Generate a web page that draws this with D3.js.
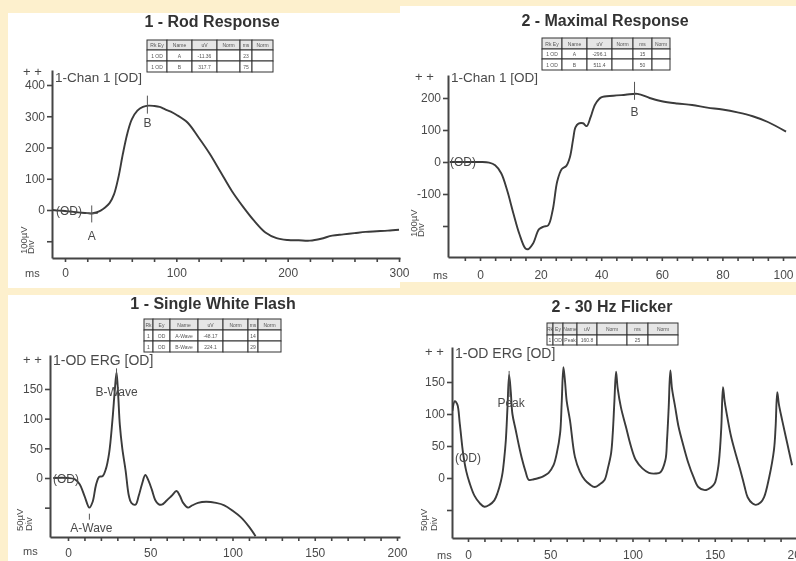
<!DOCTYPE html>
<html><head><meta charset="utf-8">
<script src="https://cdn.jsdelivr.net/npm/d3@7"></script>
<style>html,body{margin:0;padding:0;background:#fdf0cd;}svg{display:block;}</style>
</head><body><svg id="c" width="796" height="561"></svg>
<script>
// ---------- DATA ----------
const rodTime  = [-11,-5,0,5,10,15,20,24,28,32,36,40,44,48,52,56,60,65,70,75,80,85,90,95,100,110,120,130,140,150,160,170,180,190,200,210,220,230,240,250,260,270,280,290,300];
const rodValue = [0,-2,-3,-5,-7,-9,-10,-11,-8,-2,8,22,50,105,180,245,290,318,330,334,333,330,322,315,305,280,232,180,120,60,10,-35,-72,-90,-96,-97,-98,-92,-82,-78,-74,-70,-68,-66,-63];
const rodXTicks = [0,20,40,60,80,100,120,140,160,180,200,220,240,260,280,300];
const rodXLabels = ["0","","","","","100","","","","","200","","","","","300"];
const rodYTicks = [400,300,200,100,0,-100];
const rodYLabels = ["400","300","200","100","0",""];
const rodMarkTime = [24,74];
const rodMarkLabel = ["A","B"];
const rodTable = [["Rk Ey","Name","uV","Norm","ms","Norm"],["1 OD","A","-11.36","","23",""],["1 OD","B","317.7","","75",""]];

const maxTime  = [-10,-5,0,3,5,7,9,11,13,15,16,17.5,19.5,21,22.5,24,25.5,27,28.5,29.7,30.7,31.5,32.5,34,35.2,36.5,38,40,44,48,52,56,60,65,70,75,80,85,90,95,101];
const maxValue = [0,0,0,-2,-10,-35,-90,-160,-225,-270,-272,-255,-210,-202,-198,-150,-60,-22,-12,16,69,108,120,121,112,140,180,202,207,210,213,200,190,183,178,170,164,155,143,125,95];
const maxXTicks = [-5,0,5,10,15,20,25,30,35,40,45,50,55,60,65,70,75,80,85,90,95,100];
const maxXLabels = ["","0","","","","20","","","","40","","","","60","","","","80","","","","100"];
const maxYTicks = [200,100,0,-100,-200];
const maxYLabels = ["200","100","0","-100",""];
const maxMarkTime = [51];
const maxMarkLabel = ["B"];
const maxTable = [["Rk Ey","Name","uV","Norm","ms","Norm"],["1 OD","A","-296.1","","15",""],["1 OD","B","511.4","","50",""]];

const flashTime  = [-9,0,4,7,10,13,15,17,19,21,23,25,27,28.5,29.5,30.5,31.5,33,35,37,38.5,41,43,45,47,49,51,53,55,57,60,63,66,68,70,73,75,79,84,90,95,100,105,110,114];
const flashValue = [0,0,-2,-10,-30,-50,-40,-12,2,3,15,42,97,150,178,140,90,50,13,-30,-42,-45,-30,-10,5,-5,-20,-37,-44,-45,-38,-30,-22,-30,-42,-50,-47,-42,-40,-42,-46,-55,-66,-82,-98];
const flashXTicks = [0,10,20,30,40,50,60,70,80,90,100,110,120,130,140,150,160,170,180,190,200];
const flashXLabels = ["0","","","","","50","","","","","100","","","","","150","","","","","200"];
const flashYTicks = [150,100,50,0,-50];
const flashYLabels = ["150","100","50","0",""];
const flashMarkTime = [29.5,13];
const flashMarkLabel = ["B-Wave","A-Wave"];
const flashTable = [["Rk","Ey","Name","uV","Norm","ms","Norm"],["1","OD","A-Wave","-48.17","","14",""],["1","OD","B-Wave","224.1","","29",""]];

const flickTime  = [-9.5,-8,-6.5,-5,-3,-1,1,4,7,10,13,16,18,20,21,22,23,24,25,26,27,29,31,33,35,37,40,43,46,49,52,54,56,57,58,59,60,62,65,68,71,74,77,80,83,85,87,88,89,90,91,93,96,99,102,106,110,114,117,120,121,122,123,124,126,128,131,134,137,140,144,148,150,152,153,154,155,156,158,160,163,166,168,170,173,175,178,180,183,186,187,188,189,191,194,197];
const flickValue = [105,120,115,85,39,10,-8,-28,-39,-45,-42,-35,-23,-5,8,30,59,110,161,135,100,75,50,28,10,-3,-2,0,3,8,20,39,70,120,173,150,120,90,33,10,-3,-10,-14,-10,-3,15,39,70,120,166,140,110,80,50,28,15,8,7,9,28,60,110,168,140,110,80,50,23,2,-14,-19,-14,-8,15,39,80,142,120,90,64,35,8,-12,-30,-40,-42,-38,-30,0,44,80,134,115,90,55,20];
const flickXTicks = [0,10,20,30,40,50,60,70,80,90,100,110,120,130,140,150,160,170,180,190,200];
const flickXLabels = ["0","","","","","50","","","","","100","","","","","150","","","","","200"];
const flickYTicks = [150,100,50,0,-50];
const flickYLabels = ["150","100","50","0",""];
const flickMarkTime = [25];
const flickMarkLabel = ["Peak"];
const flickTable = [["Rk","Ey","Name","uV","Norm","ms","Norm"],["1","OD","Peak","160.8","","25",""]];

// ---------- LAYOUT ----------
const svg = d3.select("#c");
const defs = svg.append("defs");
defs.append("filter").attr("id","soft").append("feGaussianBlur").attr("stdDeviation",0.45);
svg.append("rect").attr("width",796).attr("height",561).attr("fill","#fdf0cd");
[[8,13,392,275],[400,6,396,276],[8,295,392,266],[400,295,396,266]].forEach(r=>{
  svg.append("rect").attr("x",r[0]).attr("y",r[1]).attr("width",r[2]).attr("height",r[3]).attr("fill","#ffffff");
});
const root = svg.append("g").attr("filter","url(#soft)");
const FONT = "'Liberation Sans', Arial, Helvetica, sans-serif";
const INK = "#444";
const TXT = "#4a4a4a";

const panels = [
 {id:"p1", title:"1 - Rod Response", tx:212, ty:27, time:rodTime, value:rodValue,
  xD:[0,300], xR:[65,399], yD:[0,400], yR:[210,85], ax:52, aTop:70, aBot:258, aRight:400,
  xT:rodXTicks, xL:rodXLabels, yT:rodYTicks, yL:rodYLabels, xLabOff:19,
  chan:"1-Chan 1 [OD]", chanY:82, chanSize:13.5, plusX:23, plusY:76,
  od:[56,215], unit:"100µV", unitX:27, divX:34, unitY:254, msX:25, msY:277,
  marks:rodMarkTime, markL:rodMarkLabel, markStyle:[{cross:true,up:8,down:9,lab:27,dx:0},{up:10,down:8,lab:21,dx:0}],
  table:rodTable, tcols:[147,167,192,217,240,252,273], trows:[40,50,61,72]},
 {id:"p2", title:"2 - Maximal Response", tx:605, ty:26, time:maxTime, value:maxValue,
  xD:[0,100], xR:[480,783], yD:[0,200], yR:[162,98], ax:448, aTop:75, aBot:257, aRight:796,
  xT:maxXTicks, xL:maxXLabels, yT:maxYTicks, yL:maxYLabels, xLabOff:22,
  chan:"1-Chan 1 [OD]", chanY:82, chanSize:13.5, plusX:415, plusY:81,
  od:[450,166], unit:"100µV", unitX:417, divX:424, unitY:237, msX:433, msY:279,
  marks:maxMarkTime, markL:maxMarkLabel, markStyle:[{up:12,down:6,lab:22,dx:0}],
  table:maxTable, tcols:[542,562,587,612,633,652,670], trows:[38,49,59,70]},
 {id:"p3", title:"1 - Single White Flash", tx:213, ty:309, time:flashTime, value:flashValue,
  xD:[0,200], xR:[68,397], yD:[0,150], yR:[478,389], ax:50, aTop:355, aBot:537, aRight:400,
  xT:flashXTicks, xL:flashXLabels, yT:flashYTicks, yL:flashYLabels, xLabOff:20,
  chan:"1-OD ERG [OD]", chanY:365, chanSize:14, plusX:23, plusY:364,
  od:[53,483], unit:"50µV", unitX:23, divX:32, unitY:531, msX:23, msY:555,
  marks:flashMarkTime, markL:flashMarkLabel, markStyle:[{up:4,down:12,lab:24,dx:0},{up:-6,down:12,lab:24,dx:2}],
  table:flashTable, tcols:[144,153,170,198,223,248,258,281], trows:[319,330,341,352]},
 {id:"p4", title:"2 - 30 Hz Flicker", tx:612, ty:312, time:flickTime, value:flickValue,
  xD:[0,200], xR:[468,797], yD:[0,150], yR:[478,382], ax:452, aTop:347, aBot:538, aRight:796,
  xT:flickXTicks, xL:flickXLabels, yT:flickYTicks, yL:flickYLabels, xLabOff:21,
  chan:"1-OD ERG [OD]", chanY:358, chanSize:14, plusX:425, plusY:356,
  od:[455,462], unit:"50µV", unitX:427, divX:437, unitY:531, msX:437, msY:559,
  marks:flickMarkTime, markL:flickMarkLabel, markStyle:[{up:4,down:22,lab:32,dx:2}],
  table:flickTable, tcols:[547,553,563,577,597,627,648,678], trows:[323,335,345]}
];

function drawPanel(p){
  const g = root.append("g");
  const x = d3.scaleLinear().domain(p.xD).range(p.xR);
  const y = d3.scaleLinear().domain(p.yD).range(p.yR);
  const xa = x.copy().domain([x.invert(p.ax), x.invert(p.aRight)]).range([p.ax, p.aRight]);
  const ya = y.copy().domain([y.invert(p.aBot), y.invert(p.aTop)]).range([p.aBot, p.aTop]);

  // title
  g.append("text").attr("x",p.tx).attr("y",p.ty).attr("text-anchor","middle")
   .attr("font-family",FONT).attr("font-weight","bold").attr("font-size",16).attr("fill","#333").text(p.title);

  // table
  const tg = g.append("g");
  p.table.forEach((row,ri)=>{
    const y0=p.trows[ri], y1=p.trows[ri+1];
    row.forEach((cell,ci)=>{
      const x0=p.tcols[ci], x1=p.tcols[ci+1];
      tg.append("rect").attr("x",x0).attr("y",y0).attr("width",x1-x0).attr("height",y1-y0)
        .attr("fill",ri===0?"#e6e6e6":"#fff").attr("stroke","#333").attr("stroke-width",1);
      tg.append("text").attr("x",(x0+x1)/2).attr("y",(y0+y1)/2+2).attr("text-anchor","middle")
        .attr("font-family",FONT).attr("font-size",5).attr("fill","#555").text(cell);
    });
  });

  // clip for trace
  const cid = "clip-"+p.id;
  defs.append("clipPath").attr("id",cid).append("rect")
    .attr("x",p.ax).attr("y",p.aTop-40).attr("width",p.aRight-p.ax).attr("height",p.aBot-p.aTop+40);

  // axes
  const yAxis = d3.axisLeft(ya).tickValues(p.yT).tickSize(5).tickSizeOuter(0).tickPadding(2)
    .tickFormat((d,i)=>p.yL[i]);
  const yg = g.append("g").attr("transform",`translate(${p.ax},0)`).call(yAxis);
  const xAxis = d3.axisBottom(xa).tickValues(p.xT).tickSize(4).tickSizeOuter(0)
    .tickFormat((d,i)=>p.xL[i]);
  const xg = g.append("g").attr("transform",`translate(0,${p.aBot})`).call(xAxis);
  [yg,xg].forEach(a=>{
    a.select(".domain").attr("stroke",INK).attr("stroke-width",2);
    a.selectAll(".tick line").attr("stroke",INK).attr("stroke-width",1.6);
    a.selectAll("text").attr("font-family",FONT).attr("font-size",12).attr("fill",TXT);
  });
  xg.selectAll(".tick text").attr("y",p.xLabOff).attr("dy",0);

  // trace
  const line = d3.line().x((d,i)=>x(p.time[i])).y((d,i)=>y(p.value[i])).curve(d3.curveCatmullRom.alpha(0.5));
  g.append("path").datum(p.value).attr("clip-path",`url(#${cid})`).attr("d",line)
    .attr("fill","none").attr("stroke","#3a3a3a").attr("stroke-width",1.9).attr("stroke-linejoin","round");

  // markers
  p.marks.forEach((t,i)=>{
    const idx = p.time.reduce((b,tt,j)=>Math.abs(tt-t)<Math.abs(p.time[b]-t)?j:b,0);
    const s = p.markStyle[i];
    const mx = x(t), my = y(p.value[idx]);
    g.append("line").attr("x1",mx).attr("x2",mx).attr("y1",my-s.up).attr("y2",my+s.down)
      .attr("stroke","#555").attr("stroke-width",1);
    if(s.cross) g.append("line").attr("x1",mx-6).attr("x2",mx+6).attr("y1",my).attr("y2",my)
      .attr("stroke","#555").attr("stroke-width",1);
    g.append("text").attr("x",mx+s.dx).attr("y",my+s.lab).attr("text-anchor","middle")
      .attr("font-family",FONT).attr("font-size",12).attr("fill",TXT).text(p.markL[i]);
  });

  // labels
  const txt=(xx,yy,s,size,anchor)=>g.append("text").attr("x",xx).attr("y",yy).attr("text-anchor",anchor||"start")
      .attr("font-family",FONT).attr("font-size",size).attr("fill",TXT).text(s);
  txt(p.ax+3,p.chanY,p.chan,p.chanSize);
  txt(p.plusX,p.plusY,"+ +",13);
  txt(p.od[0],p.od[1],"(OD)",12);
  txt(p.msX,p.msY,"ms",11);
  g.append("text").attr("transform",`translate(${p.unitX},${p.unitY}) rotate(-90)`)
    .attr("font-family",FONT).attr("font-size",9.5).attr("fill",TXT).text(p.unit);
  g.append("text").attr("transform",`translate(${p.divX},${p.unitY}) rotate(-90)`)
    .attr("font-family",FONT).attr("font-size",9.5).attr("fill",TXT).text("Div");
}
panels.forEach(drawPanel);
</script></body></html>
